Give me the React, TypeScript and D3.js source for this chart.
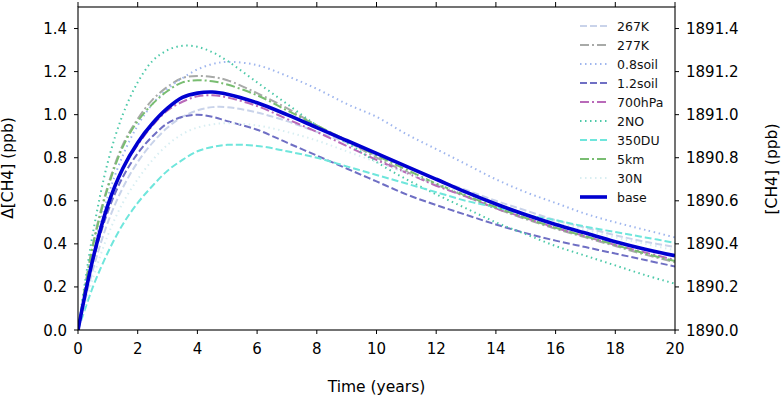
import * as d3 from "d3"
import React from "react"

const years = [0, 0.5, 1, 1.5, 2, 2.5, 3, 3.5, 4, 4.5, 5, 6, 7, 8, 9, 10, 11, 12, 13, 14, 15, 16, 17, 18, 19, 20]

const k267 = [0, 0.28, 0.5, 0.66, 0.78, 0.87, 0.94, 0.99, 1.02, 1.035, 1.035, 1.01, 0.97, 0.92, 0.87, 0.81, 0.76, 0.70, 0.65, 0.60, 0.555, 0.51, 0.475, 0.44, 0.41, 0.385]
const k277 = [0, 0.40, 0.67, 0.86, 0.98, 1.07, 1.13, 1.17, 1.18, 1.175, 1.16, 1.10, 1.03, 0.95, 0.88, 0.80, 0.735, 0.675, 0.62, 0.565, 0.515, 0.47, 0.43, 0.39, 0.35, 0.315]
const soil08 = [0, 0.36, 0.62, 0.81, 0.95, 1.05, 1.12, 1.17, 1.21, 1.235, 1.245, 1.23, 1.18, 1.12, 1.05, 0.99, 0.91, 0.84, 0.77, 0.70, 0.64, 0.59, 0.54, 0.50, 0.465, 0.43]
const soil12 = [0, 0.32, 0.55, 0.71, 0.82, 0.90, 0.96, 0.99, 1.0, 0.99, 0.97, 0.93, 0.87, 0.81, 0.75, 0.69, 0.63, 0.58, 0.535, 0.49, 0.45, 0.415, 0.385, 0.355, 0.325, 0.295]
const hpa700 = [0, 0.34, 0.58, 0.75, 0.86, 0.95, 1.02, 1.06, 1.085, 1.09, 1.08, 1.04, 0.98, 0.92, 0.855, 0.79, 0.73, 0.67, 0.62, 0.565, 0.52, 0.475, 0.435, 0.395, 0.36, 0.325]
const no2 = [0, 0.45, 0.78, 1.0, 1.15, 1.25, 1.30, 1.32, 1.315, 1.29, 1.25, 1.15, 1.05, 0.95, 0.87, 0.78, 0.70, 0.63, 0.565, 0.50, 0.445, 0.39, 0.345, 0.30, 0.255, 0.215]
const du350 = [0, 0.2, 0.36, 0.49, 0.59, 0.67, 0.74, 0.79, 0.83, 0.85, 0.86, 0.855, 0.83, 0.80, 0.76, 0.72, 0.68, 0.64, 0.60, 0.57, 0.535, 0.51, 0.48, 0.455, 0.43, 0.405]
const km5 = [0, 0.39, 0.66, 0.85, 0.97, 1.05, 1.11, 1.15, 1.16, 1.155, 1.14, 1.09, 1.02, 0.95, 0.88, 0.81, 0.745, 0.68, 0.625, 0.57, 0.52, 0.475, 0.435, 0.395, 0.355, 0.32]
const n30 = [0, 0.24, 0.44, 0.59, 0.70, 0.79, 0.86, 0.91, 0.94, 0.955, 0.96, 0.95, 0.92, 0.88, 0.83, 0.78, 0.73, 0.68, 0.63, 0.585, 0.54, 0.50, 0.465, 0.43, 0.40, 0.37]
const base = [0, 0.33, 0.58, 0.75, 0.87, 0.96, 1.03, 1.08, 1.10, 1.105, 1.095, 1.055, 1.0, 0.94, 0.88, 0.82, 0.76, 0.70, 0.64, 0.585, 0.535, 0.49, 0.45, 0.41, 0.375, 0.345]

const labels = ["267K", "277K", "0.8soil", "1.2soil", "700hPa", "2NO", "350DU", "5km", "30N", "base"]
const seriesValues = [k267, k277, soil08, soil12, hpa700, no2, du350, km5, n30, base]
const colors = ["#c9d3ea", "#a8aaa8", "#9fb6ee", "#6f6fc4", "#b96ab9", "#4cc9a8", "#6fe6dc", "#79bd71", "#d8eef2", "#0000d0"]
const dashes = ["7,3", "9,3,2,3", "1.5,3.5", "7,3", "9,3,2,3", "1.5,3.5", "7,3", "9,3,2,3", "1.5,3.5", null]
const widths = [2, 2, 2, 2, 2, 2, 2, 2, 2, 3.6]

const xTicks = [0, 2, 4, 6, 8, 10, 12, 14, 16, 18, 20]
const yTicks = [0, 0.2, 0.4, 0.6, 0.8, 1.0, 1.2, 1.4]
const rightTicks = [1890.0, 1890.2, 1890.4, 1890.6, 1890.8, 1891.0, 1891.2, 1891.4]

export default function App() {
  const W = 782, H = 397
  const x0 = 78, x1 = 675, yTop = 7, yBot = 330
  const xScale = d3.scaleLinear().domain([0, 20]).range([x0, x1])
  const yScale = d3.scaleLinear().domain([0, 1.5]).range([yBot, yTop])
  const yRight = d3.scaleLinear().domain([1890, 1891.5]).range([yBot, yTop])
  const line = d3.line<number>().curve(d3.curveCatmullRom.alpha(0.5)).x((d, i) => xScale(years[i])).y(d => yScale(d))
  const font = "DejaVu Sans, sans-serif"
  const tickSize = 15
  const legX = 580, legY = 26, legStep = 19

  return (
    <svg width={W} height={H} style={{ position: "absolute", left: 0, top: 0, fontFamily: font }}>
      <rect width={W} height={H} fill="white" />
      <defs>
        <clipPath id="plot"><rect x={x0} y={yTop} width={x1 - x0} height={yBot - yTop} /></clipPath>
      </defs>
      <g clipPath="url(#plot)">
        {seriesValues.map((vals, i) => (
          <path key={i} d={line(vals) || ""} fill="none" stroke={colors[i]} strokeWidth={widths[i]}
            strokeDasharray={dashes[i] || undefined} />
        ))}
      </g>
      {/* legend */}
      {labels.map((lab, i) => (
        <g key={lab} transform={`translate(0,${legY + i * legStep})`}>
          <line x1={legX} x2={legX + 27} y1={0} y2={0} stroke={colors[i]} strokeWidth={widths[i]}
            strokeDasharray={dashes[i] || undefined} />
          <text x={legX + 37} y={4.5} fontSize={12.5} fill="#111">{lab}</text>
        </g>
      ))}
      <rect x={x0} y={yTop} width={x1 - x0} height={yBot - yTop} fill="none" stroke="#000" strokeWidth={1.1} />
      {xTicks.map(t => (
        <g key={t}>
          <line x1={xScale(t)} x2={xScale(t)} y1={yBot} y2={yBot + 4} stroke="#000" />
          <line x1={xScale(t)} x2={xScale(t)} y1={yTop} y2={yTop - 5} stroke="#000" />
          <text x={xScale(t)} y={yBot + 23.5} textAnchor="middle" fontSize={tickSize}>{t}</text>
        </g>
      ))}
      {yTicks.map(t => (
        <g key={t}>
          <line x1={x0 - 4} x2={x0} y1={yScale(t)} y2={yScale(t)} stroke="#000" />
          <text x={x0 - 11} y={yScale(t) + 5.5} textAnchor="end" fontSize={tickSize}>{t.toFixed(1)}</text>
        </g>
      ))}
      {rightTicks.map(t => (
        <g key={t}>
          <line x1={x1} x2={x1 + 4} y1={yRight(t)} y2={yRight(t)} stroke="#000" />
          <text x={x1 + 11} y={yRight(t) + 5.5} textAnchor="start" fontSize={tickSize}>{t.toFixed(1)}</text>
        </g>
      ))}
      <text x={376.5} y={392} textAnchor="middle" fontSize={15.5}>Time (years)</text>
      <text transform={`translate(13,${168}) rotate(-90)`} textAnchor="middle" fontSize={15.5}>Δ[CH4] (ppb)</text>
      <text transform={`translate(777,${169}) rotate(-90)`} textAnchor="middle" fontSize={15.5}>[CH4] (ppb)</text>
    </svg>
  )
}
